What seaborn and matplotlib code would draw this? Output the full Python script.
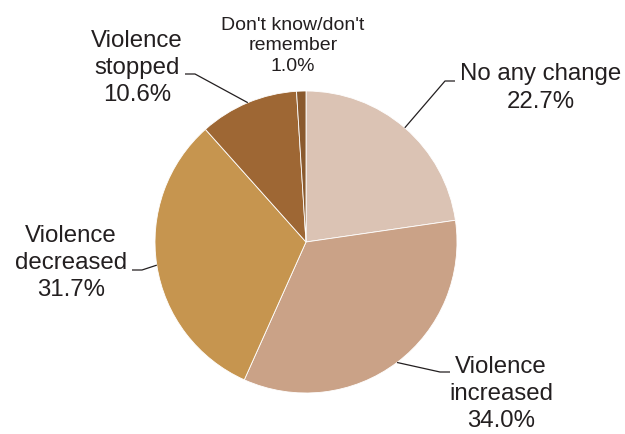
import numpy as np
import seaborn as sns
import matplotlib
matplotlib.use('Agg')
import matplotlib.pyplot as plt

# Chart data
labels = ['No any change', 'Violence\nincreased', 'Violence\ndecreased',
          'Violence\nstopped', "Don't know/don't\nremember"]
shares = [22.7, 34.0, 31.7, 10.6, 1.0]
colors = ['#dbc3b4', '#caa287', '#c6954f', '#9e6734', '#8a5a2e']

# Label layout in pixels (x, y from top), leader elbow (near, far) x and y
label_pos = [(541, 88), (501, 394), (71, 263), (137, 68), (293, 46)]
elbows = [((445, 455), 82), ((440, 450), 373), ((142, 132), 271),
          ((195, 185), 75), None]
font_sizes = [17.3, 17.3, 17.3, 17.3, 14]
line_sp = [1.3, 1.3, 1.3, 1.3, 1.24]

W, H = 625, 435
center_px = (306, 243)
radius = 151

sns.set_theme(style='white')
plt.rcParams['font.family'] = ['Liberation Sans', 'DejaVu Sans']

fig = plt.figure(figsize=(W / 100, H / 100), dpi=100)
ax = fig.add_axes([0, 0, 1, 1])

wedges, _ = ax.pie(shares, colors=sns.color_palette(colors), startangle=90,
                   counterclock=False, radius=radius,
                   center=(center_px[0], H - center_px[1]),
                   wedgeprops=dict(edgecolor='white', linewidth=0.6))
ax.set_xlim(0, W)
ax.set_ylim(0, H)
ax.set_aspect('equal')
ax.axis('off')

txt_color = '#231f20'
for wedge, lab, val, pos, elb, fs, ls in zip(wedges, labels, shares, label_pos,
                                              elbows, font_sizes, line_sp):
    ax.text(pos[0], H - pos[1], f'{lab}\n{val:.1f}%', ha='center', va='center',
            multialignment='center', fontsize=fs, color=txt_color, linespacing=ls)
    if elb is None:
        continue
    mid = np.deg2rad((wedge.theta1 + wedge.theta2) / 2)
    ex = wedge.center[0] + wedge.r * np.cos(mid)
    ey = wedge.center[1] + wedge.r * np.sin(mid)
    (x1, x2), yl = elb
    ax.plot([ex, x1, x2], [ey, H - yl, H - yl], color=txt_color, lw=0.9,
            solid_capstyle='butt')

fig.savefig('out.png', dpi=100)
